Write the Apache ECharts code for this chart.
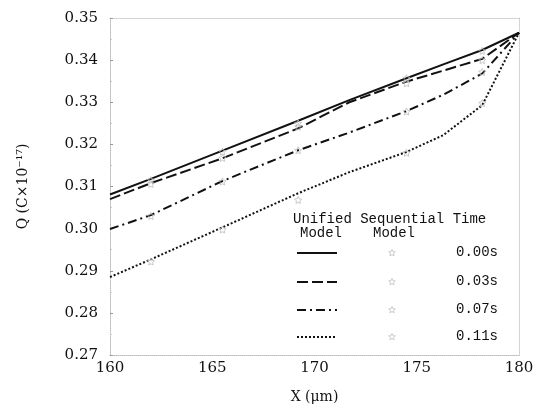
<!DOCTYPE html>
<html><head><meta charset="utf-8">
<script src="https://cdn.jsdelivr.net/npm/echarts@6/dist/echarts.min.js"></script>
<style>html,body{margin:0;padding:0;background:#fff}#c{width:543px;height:415px}</style>
</head><body><div id="c"></div>
<script>
// x positions (μm)
const xs = [160, 162, 165.5, 169.2, 171.7, 174.5, 176.3, 178.2, 180];
// Unified model curves (Q, ×10^-17 C)
const unified000 = [0.3081, 0.3118, 0.3185, 0.3256, 0.3305, 0.3357, 0.3390, 0.3424, 0.3465];
const unified003 = [0.3070, 0.3108, 0.3167, 0.3238, 0.3300, 0.3349, 0.3375, 0.3403, 0.3465];
const unified007 = [0.2999, 0.3032, 0.3113, 0.3186, 0.3228, 0.3279, 0.3318, 0.3368, 0.3465];
const unified011 = [0.2885, 0.2927, 0.3003, 0.3084, 0.3134, 0.3182, 0.3222, 0.3293, 0.3465];
// Sequential model points
const seqX = [162, 165.5, 169.2, 174.5, 178.2];
const seq000 = [0.3115, 0.3183, 0.3250, 0.3357, 0.3422];
const seq003 = [0.3106, 0.3168, 0.3242, 0.3345, 0.3400];
const seq007 = [0.3030, 0.3112, 0.3186, 0.3278, 0.3372];
const seq011 = [0.2922, 0.2998, 0.3068, 0.3180, 0.3298];
const timeLabels = ['0.00s', '0.03s', '0.07s', '0.11s'];

const pair = (x, y) => x.map((v, i) => [v, y[i]]);
const dashes = [null, [11, 4], [9, 4, 2, 4], [2, 2]];
const unified = [unified000, unified003, unified007, unified011];
const seq = [seq000, seq003, seq007, seq011];
const star = 'path://M0,-10 L2.9,-4 L9.5,-3.1 L4.7,1.5 L5.9,8.1 L0,5 L-5.9,8.1 L-4.7,1.5 L-9.5,-3.1 L-2.9,-4 Z';
const starPts = (cx, cy, r) => {
  const p = [];
  for (let k = 0; k < 10; k++) {
    const a = -Math.PI / 2 + k * Math.PI / 5, rr = k % 2 ? r * 0.45 : r;
    p.push([cx + rr * Math.cos(a), cy + rr * Math.sin(a)]);
  }
  return p;
};

const series = [];
unified.forEach((u, i) => {
  series.push({
    type: 'line', data: pair(xs, u), symbol: 'none', silent: true,
    lineStyle: { color: '#111', width: 2, type: dashes[i] || 'solid' },
    z: 3
  });
});
seq.forEach((s) => {
  series.push({
    type: 'scatter', data: pair(seqX, s), symbol: star, symbolSize: 7,
    itemStyle: { color: 'rgba(0,0,0,0)', borderColor: '#bbb', borderWidth: 1 }, z: 4
  });
});

const serif = '"DejaVu Serif", "Liberation Serif", serif';
const mono = '"Liberation Mono", "DejaVu Sans Mono", monospace';
const chart = echarts.init(document.getElementById('c'));

// legend graphics
const g = [];
g.push({ type: 'text', x: 293, y: 212, style: { text: 'Unified Sequential Time', font: '14px ' + mono, fill: '#111' } });
g.push({ type: 'text', x: 300, y: 226, style: { text: 'Model', font: '14px ' + mono, fill: '#111' } });
g.push({ type: 'text', x: 373, y: 226, style: { text: 'Model', font: '14px ' + mono, fill: '#111' } });
const rowY = [253, 282, 310, 337];
timeLabels.forEach((t, i) => {
  const st = { stroke: '#111', lineWidth: 2 };
  if (dashes[i]) st.lineDash = dashes[i];
  g.push({ type: 'line', shape: { x1: 297, y1: rowY[i], x2: 337, y2: rowY[i] }, style: st });
  g.push({ type: 'text', x: 456, y: rowY[i] - 8, style: { text: t, font: '14px ' + mono, fill: '#111' } });
  g.push({ type: 'polygon', shape: { points: starPts(392, rowY[i], 3.5) },
    style: { fill: 'rgba(0,0,0,0)', stroke: '#ccc', lineWidth: 1 } });
});

chart.setOption({
  animation: false,
  backgroundColor: '#fff',
  grid: { left: 110, right: 24, top: 18, bottom: 60 },
  xAxis: [{
    type: 'value', min: 160, max: 180, interval: 5,
    name: 'X (μm)', nameLocation: 'middle', nameGap: 35,
    nameTextStyle: { fontFamily: serif, fontSize: 14, color: '#111' },
    axisLine: { show: true, lineStyle: { color: '#bbb', type: 'dotted' } },
    axisTick: { show: false },
    axisLabel: { fontFamily: serif, fontSize: 15, color: '#111', margin: 6 },
    splitLine: { show: false }
  }, {
    type: 'value', min: 160, max: 180, position: 'top',
    axisLine: { show: true, lineStyle: { color: '#ccc', type: 'dotted' } },
    axisTick: { show: false }, axisLabel: { show: false }, splitLine: { show: false }
  }],
  yAxis: [{
    type: 'value', min: 0.27, max: 0.35, interval: 0.01,
    name: 'Q (C×10⁻¹⁷)', nameLocation: 'middle', nameGap: 80, nameRotate: 90,
    nameTextStyle: { fontFamily: serif, fontSize: 14, color: '#111' },
    axisLine: { show: true, lineStyle: { color: '#bbb', type: 'dotted' } },
    axisTick: { show: true, inside: true, length: 3, lineStyle: { color: '#999' } },
    minorTick: { show: true, splitNumber: 2, length: 2, lineStyle: { color: '#ccc' } },
    axisLabel: { fontFamily: serif, fontSize: 15, color: '#111', margin: 12,
      formatter: v => v.toFixed(2) },
    splitLine: { show: false }
  }, {
    type: 'value', min: 0.27, max: 0.35, position: 'right',
    axisLine: { show: true, lineStyle: { color: '#ccc', type: 'dotted' } },
    axisTick: { show: false }, axisLabel: { show: false }, splitLine: { show: false }
  }],
  series: series,
  graphic: g
});
</script></body></html>
